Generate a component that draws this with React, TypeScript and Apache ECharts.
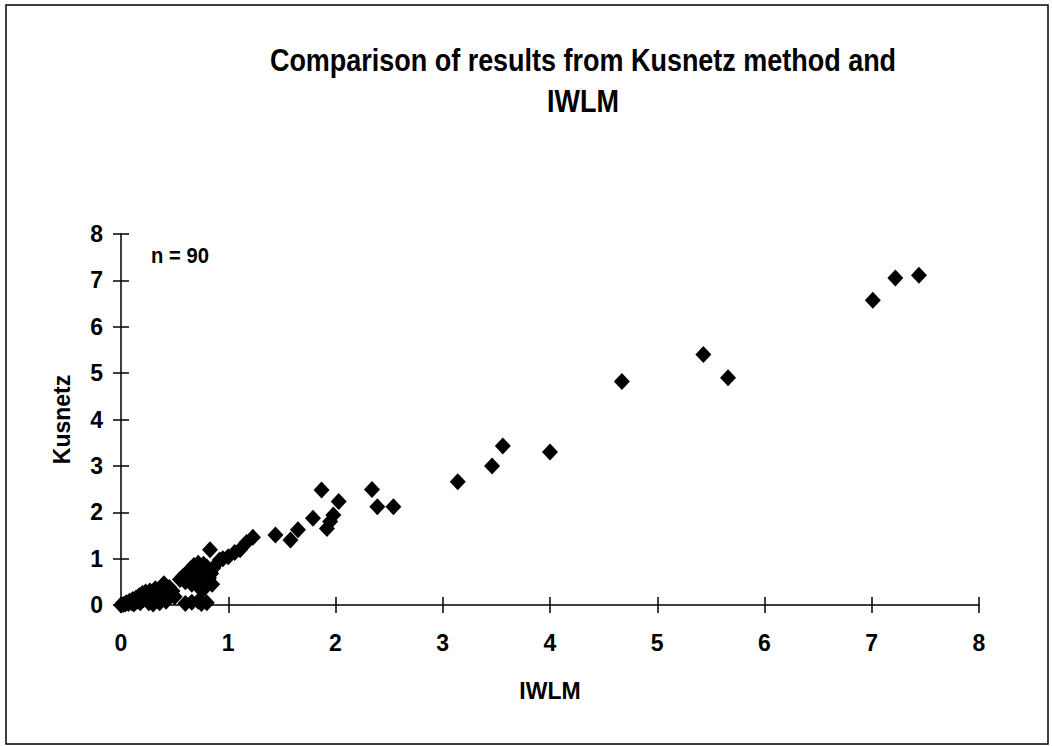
import React, { useEffect, useRef } from "react";
import * as echarts from "echarts";

const titleLines = ["Comparison of results from Kusnetz method and", "IWLM"];
const xName = "IWLM";
const yName = "Kusnetz";
const noteText = "n = 90";
const axisTicks = [0, 1, 2, 3, 4, 5, 6, 7, 8];

// IWLM values
const iwlm = [
  7.44, 7.22, 7.01, 5.66, 5.43, 4.67, 4.0, 3.56, 3.46, 3.14,
  2.54, 2.39, 2.34, 2.03, 1.98, 1.92, 1.87, 1.79, 1.65, 1.58,
  1.44, 1.95, 1.23, 1.17, 1.11, 1.06, 1.0, 0.92, 0.83, 0.95,
  0.55, 0.58, 0.6, 0.62, 0.63, 0.65, 0.66, 0.68, 0.69, 0.7,
  0.72, 0.72, 0.74, 0.75, 0.76, 0.78, 0.8, 0.82, 0.84, 0.85,
  0.77, 0.86,
  0.6, 0.66, 0.72, 0.8, 0.75,
  0.0, 0.02, 0.04, 0.05, 0.07, 0.08, 0.1, 0.11, 0.12, 0.14,
  0.15, 0.17, 0.18, 0.2, 0.21, 0.23, 0.24, 0.26, 0.27, 0.29,
  0.3, 0.32, 0.34, 0.36, 0.38, 0.4, 0.41, 0.44, 0.45, 0.48,
  0.5, 0.42, 0.3,
];

// Kusnetz values
const kusnetz = [
  7.11, 7.05, 6.57, 4.9, 5.4, 4.82, 3.3, 3.43, 3.0, 2.66,
  2.12, 2.12, 2.49, 2.23, 1.94, 1.65, 2.48, 1.87, 1.62, 1.4,
  1.51, 1.8, 1.46, 1.35, 1.19, 1.13, 1.04, 0.97, 1.19, 1.0,
  0.55, 0.62, 0.5, 0.7, 0.58, 0.78, 0.45, 0.85, 0.62, 0.52,
  0.9, 0.4, 0.75, 0.6, 0.32, 0.48, 0.82, 0.58, 0.68, 0.45,
  0.88, 0.8,
  0.03, 0.06, 0.08, 0.05, 0.03,
  0.0, 0.01, 0.02, 0.05, 0.03, 0.08, 0.05, 0.12, 0.02, 0.15,
  0.08, 0.2, 0.05, 0.25, 0.12, 0.28, 0.18, 0.05, 0.3, 0.22,
  0.1, 0.35, 0.28, 0.05, 0.4, 0.46, 0.3, 0.22, 0.38, 0.3,
  0.18, 0.08, 0.02,
];

const GRID = { left: 121, right: 74, top: 234, bottom: 141 };
const W = 1053;
const H = 746;

export default function App() {
  const ref = useRef<HTMLDivElement>(null);
  useEffect(() => {
    if (!ref.current) return;
    const chart = echarts.init(ref.current, null, { renderer: "svg" });
    const data = iwlm.map((x, i) => [x, kusnetz[i]]);
    const plotW = W - GRID.left - GRID.right;
    const plotH = H - GRID.top - GRID.bottom;
    const labelStyle = {
      color: "#000",
      fontFamily: "Liberation Sans, Arial, sans-serif",
      fontWeight: "bold" as const,
      fontSize: 23,
    };
    const tickStyle = { color: "#000", width: 1.5 };
    const baseAxis = {
      type: "value" as const,
      min: 0,
      max: 8,
      interval: 1,
      splitLine: { show: false },
      axisLine: { show: true, onZero: false, lineStyle: { color: "#000", width: 1.5 } },
    };
    const titleFont = "bold 31px 'Liberation Sans', Arial, sans-serif";
    chart.setOption({
      animation: false,
      backgroundColor: "#fff",
      grid: { ...GRID, containLabel: false, outerBoundsMode: "none" },
      graphic: [
        {
          type: "rect",
          shape: { x: 6, y: 5, width: 1042, height: 739 },
          style: { fill: "none", stroke: "#000", lineWidth: 1.5 },
          silent: true,
        },
        {
          type: "text",
          x: 583,
          y: 60,
          scaleX: 0.87,
          style: { text: titleLines[0], fill: "#000", font: titleFont, align: "center", verticalAlign: "middle" },
        },
        {
          type: "text",
          x: 583,
          y: 101,
          scaleX: 0.87,
          style: { text: titleLines[1], fill: "#000", font: titleFont, align: "center", verticalAlign: "middle" },
        },
        {
          type: "text",
          x: 151,
          y: 255,
          scaleX: 0.92,
          style: {
            text: noteText,
            fill: "#000",
            font: "bold 22px 'Liberation Sans', Arial, sans-serif",
            align: "left",
            verticalAlign: "middle",
          },
        },
      ],
      xAxis: [
        {
          ...baseAxis,
          name: xName,
          nameLocation: "middle",
          nameGap: 74,
          nameTextStyle: { ...labelStyle },
          axisTick: { show: true, inside: false, length: 8, lineStyle: tickStyle },
          axisLabel: {
            ...labelStyle,
            margin: 26,
            formatter: (v: number) => (axisTicks.includes(v) ? String(v) : ""),
          },
        },
        {
          ...baseAxis,
          position: "top",
          offset: -plotH,
          axisLine: { show: false, onZero: false },
          axisTick: { show: true, inside: false, length: 8, lineStyle: tickStyle },
          axisLabel: { show: false },
        },
      ],
      yAxis: [
        {
          ...baseAxis,
          name: yName,
          nameLocation: "middle",
          nameGap: 48,
          nameRotate: 90,
          nameTextStyle: { ...labelStyle },
          axisTick: { show: true, inside: false, length: 8, lineStyle: tickStyle },
          axisLabel: { ...labelStyle, margin: 18 },
        },
        {
          ...baseAxis,
          position: "right",
          offset: -plotW,
          axisLine: { show: false, onZero: false },
          axisTick: { show: true, inside: false, length: 8, lineStyle: tickStyle },
          axisLabel: { show: false },
        },
      ],
      series: [
        {
          type: "scatter",
          data,
          symbol: "diamond",
          symbolSize: [16, 17],
          itemStyle: { color: "#000", opacity: 1 },
          xAxisIndex: 0,
          yAxisIndex: 0,
        },
      ],
    });
    return () => chart.dispose();
  }, []);
  return (
    <div
      ref={ref}
      style={{ position: "fixed", left: 0, top: 0, width: W, height: H, background: "#fff" }}
    />
  );
}
